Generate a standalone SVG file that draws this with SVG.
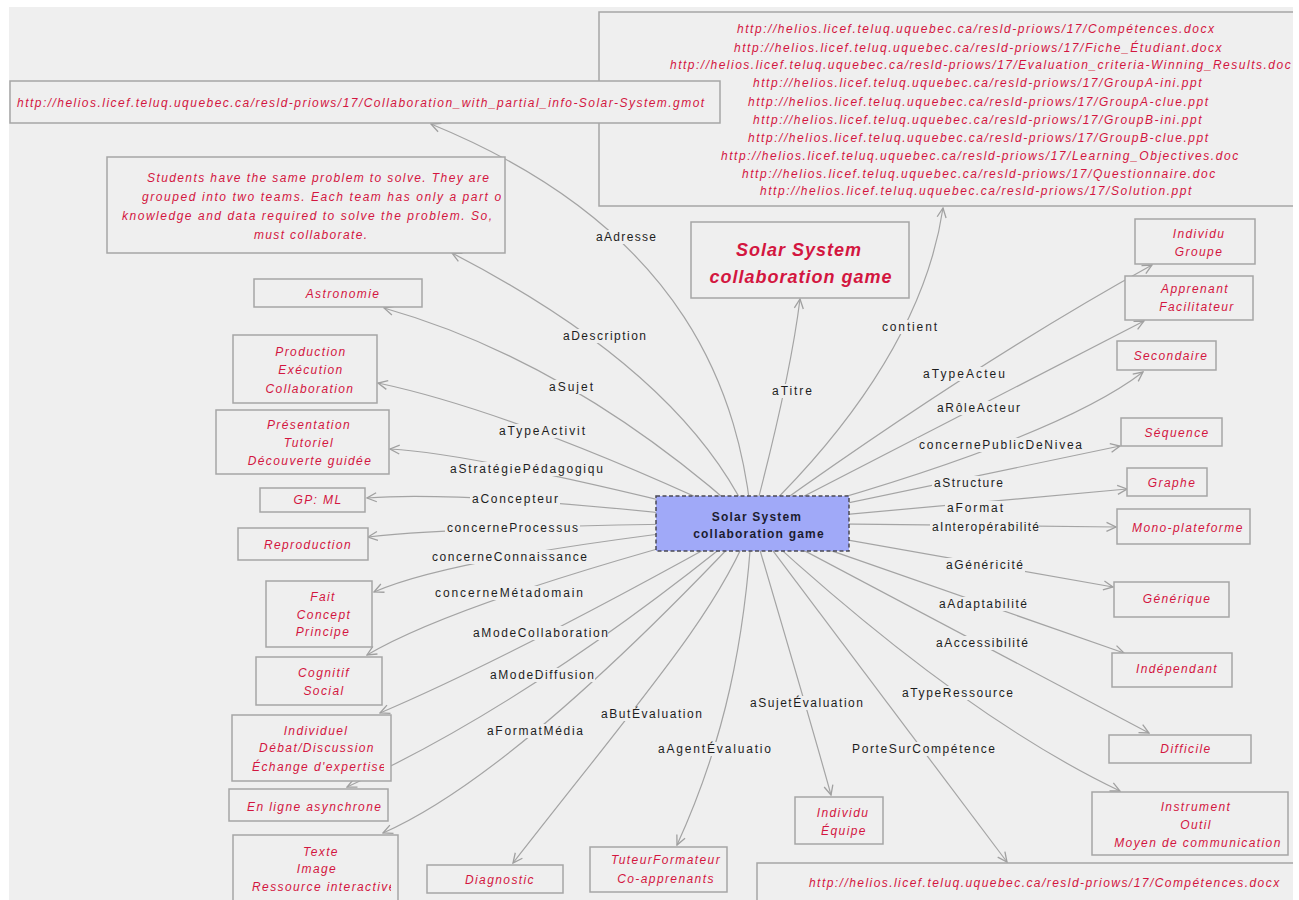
<svg xmlns="http://www.w3.org/2000/svg" width="1299" height="900" viewBox="0 0 1299 900">
<style>
.bg{fill:#efefef}
.box{fill:#efefef;stroke:#a6a6a6;stroke-width:1.5}
.lnk{fill:none;stroke:#a4a4a4;stroke-width:1.2;marker-end:url(#ah)}
.lb{fill:#efefef}
.lbl{font-family:"Liberation Sans",Arial,sans-serif;font-size:12px;fill:#1e1e1e}
.nt{font-family:"Liberation Sans",Arial,sans-serif;font-size:12px;font-style:italic;fill:#d3163f;letter-spacing:1.4px;text-anchor:middle}
.ns{font-family:"Liberation Sans",Arial,sans-serif;font-size:12px;font-style:italic;fill:#d3163f;letter-spacing:1.4px}
.url{font-family:"Liberation Sans",Arial,sans-serif;font-size:12px;font-style:italic;fill:#d3163f;letter-spacing:1.55px}
.ttl{font-family:"Liberation Sans",Arial,sans-serif;font-size:18px;font-weight:bold;font-style:italic;fill:#d3163f;letter-spacing:1px;text-anchor:middle}
.ctr{font-family:"Liberation Sans",Arial,sans-serif;font-size:12px;font-weight:bold;fill:#1c1c30;letter-spacing:1.2px;text-anchor:middle}
</style>
<defs>
<marker id="ah" viewBox="0 0 12 12" refX="11" refY="6" markerWidth="12" markerHeight="12" markerUnits="userSpaceOnUse" orient="auto">
<path d="M1.5,1.5 L11,6 L1.5,10.5" fill="none" stroke="#a0a0a0" stroke-width="1.3"/>
</marker>
<clipPath id="cDesc"><rect x="108" y="158" width="393" height="94"/></clipPath>
<clipPath id="cIndiv"><rect x="233" y="716" width="151" height="64"/></clipPath>
<clipPath id="cLigne"><rect x="230" y="790" width="151" height="30"/></clipPath>
<clipPath id="cTexte"><rect x="234" y="836" width="157" height="64"/></clipPath>
<clipPath id="cMono"><rect x="1118" y="510" width="125" height="33"/></clipPath>
<clipPath id="cRight"><rect x="0" y="0" width="1293" height="900"/></clipPath>
</defs>
<rect x="0" y="0" width="1299" height="900" fill="#ffffff"/>
<rect class="bg" x="9" y="7" width="1284" height="893"/>

<g id="connectors">
<path class="lnk" d="M752,523 C740,400 690,230 431,124"/>
<path class="lnk" d="M752,523 C715,440 630,345 452,253"/>
<path class="lnk" d="M752,523 Q574,362 384,308"/>
<path class="lnk" d="M752,523 Q519,413 378,383"/>
<path class="lnk" d="M752,523 Q481,454 390,449"/>
<path class="lnk" d="M752,523 Q471,490 367,498"/>
<path class="lnk" d="M752,523 Q464,526 368,537"/>
<path class="lnk" d="M752,523 Q455,556 374,592"/>
<path class="lnk" d="M752,523 Q458,601 367,655"/>
<path class="lnk" d="M752,523 Q514,656 380,713"/>
<path class="lnk" d="M752,523 Q532,703 347,787"/>
<path class="lnk" d="M752,523 Q515,775 383,833"/>
<path class="lnk" d="M752,523 C720,610 640,700 513,863"/>
<path class="lnk" d="M752,523 C745,640 725,740 677,845"/>
<path class="lnk" d="M752,523 Q818,747 831,795"/>
<path class="lnk" d="M752,523 L1007,862"/>
<path class="lnk" d="M752,523 Q960,715 1120,791"/>
<path class="lnk" d="M752,523 L1149,733"/>
<path class="lnk" d="M752,523 L1124,653"/>
<path class="lnk" d="M752,523 L1113,587"/>
<path class="lnk" d="M752,523 L1116,527"/>
<path class="lnk" d="M752,523 L1127,489"/>
<path class="lnk" d="M752,523 L1120,446"/>
<path class="lnk" d="M752,523 Q1052,442 1143,372"/>
<path class="lnk" d="M752,523 L1144,321"/>
<path class="lnk" d="M752,523 Q976,362 1152,265"/>
<path class="lnk" d="M752,523 C840,440 925,330 943,208"/>
<path class="lnk" d="M752,523 Q790,380 800,299"/>

<rect class="lb" x="594" y="230" width="64" height="14"/><text class="lbl" x="596" y="241" textLength="60" lengthAdjust="spacing">aAdresse</text>
<rect class="lb" x="561" y="329" width="87" height="14"/><text class="lbl" x="563" y="340" textLength="83" lengthAdjust="spacing">aDescription</text>
<rect class="lb" x="547" y="380" width="48" height="14"/><text class="lbl" x="549" y="391" textLength="44" lengthAdjust="spacing">aSujet</text>
<rect class="lb" x="497" y="424" width="90" height="14"/><text class="lbl" x="499" y="435" textLength="86" lengthAdjust="spacing">aTypeActivit</text>
<rect class="lb" x="448" y="462" width="157" height="14"/><text class="lbl" x="450" y="473" textLength="153" lengthAdjust="spacing">aStratégiePédagogiqu</text>
<rect class="lb" x="470" y="492" width="90" height="14"/><text class="lbl" x="472" y="503" textLength="86" lengthAdjust="spacing">aConcepteur</text>
<rect class="lb" x="445" y="521" width="135" height="14"/><text class="lbl" x="447" y="532" textLength="131" lengthAdjust="spacing">concerneProcessus</text>
<rect class="lb" x="430" y="550" width="159" height="14"/><text class="lbl" x="432" y="561" textLength="155" lengthAdjust="spacing">concerneConnaissance</text>
<rect class="lb" x="433" y="586" width="152" height="14"/><text class="lbl" x="435" y="597" textLength="148" lengthAdjust="spacing">concerneMétadomain</text>
<rect class="lb" x="471" y="626" width="137" height="14"/><text class="lbl" x="473" y="637" textLength="135" lengthAdjust="spacing">aModeCollaboration</text>
<rect class="lb" x="488" y="668" width="107" height="14"/><text class="lbl" x="490" y="679" textLength="104" lengthAdjust="spacing">aModeDiffusion</text>
<rect class="lb" x="485" y="724" width="100" height="14"/><text class="lbl" x="487" y="735" textLength="96" lengthAdjust="spacing">aFormatMédia</text>
<rect class="lb" x="599" y="707" width="103" height="14"/><text class="lbl" x="601" y="718" textLength="101" lengthAdjust="spacing">aButÉvaluation</text>
<rect class="lb" x="656" y="742" width="117" height="14"/><text class="lbl" x="658" y="753" textLength="113" lengthAdjust="spacing">aAgentÉvaluatio</text>
<rect class="lb" x="748" y="696" width="115" height="14"/><text class="lbl" x="750" y="707" textLength="113" lengthAdjust="spacing">aSujetÉvaluation</text>
<rect class="lb" x="850" y="742" width="145" height="14"/><text class="lbl" x="852" y="753" textLength="143" lengthAdjust="spacing">PorteSurCompétence</text>
<rect class="lb" x="900" y="686" width="115" height="14"/><text class="lbl" x="902" y="697" textLength="111" lengthAdjust="spacing">aTypeRessource</text>
<rect class="lb" x="934" y="636" width="96" height="14"/><text class="lbl" x="936" y="647" textLength="92" lengthAdjust="spacing">aAccessibilité</text>
<rect class="lb" x="937" y="597" width="90" height="14"/><text class="lbl" x="939" y="608" textLength="88" lengthAdjust="spacing">aAdaptabilité</text>
<rect class="lb" x="944" y="558" width="81" height="14"/><text class="lbl" x="946" y="569" textLength="77" lengthAdjust="spacing">aGénéricité</text>
<rect class="lb" x="930" y="520" width="109" height="14"/><text class="lbl" x="932" y="531" textLength="107" lengthAdjust="spacing">aInteropérabilité</text>
<rect class="lb" x="945" y="501" width="60" height="14"/><text class="lbl" x="947" y="512" textLength="56" lengthAdjust="spacing">aFormat</text>
<rect class="lb" x="932" y="476" width="73" height="14"/><text class="lbl" x="934" y="487" textLength="69" lengthAdjust="spacing">aStructure</text>
<rect class="lb" x="917" y="438" width="167" height="14"/><text class="lbl" x="919" y="449" textLength="163" lengthAdjust="spacing">concernePublicDeNivea</text>
<rect class="lb" x="935" y="401" width="85" height="14"/><text class="lbl" x="937" y="412" textLength="83" lengthAdjust="spacing">aRôleActeur</text>
<rect class="lb" x="921" y="367" width="86" height="14"/><text class="lbl" x="923" y="378" textLength="82" lengthAdjust="spacing">aTypeActeu</text>
<rect class="lb" x="880" y="320" width="59" height="14"/><text class="lbl" x="882" y="331" textLength="55" lengthAdjust="spacing">contient</text>
<rect class="lb" x="770" y="384" width="44" height="14"/><text class="lbl" x="772" y="395" textLength="40" lengthAdjust="spacing">aTitre</text>
</g>

<g id="n-url-top-right" clip-path="url(#cRight)"><rect class="box" x="599" y="12" width="720" height="194"/>
<text class="url" x="737" y="33">http://helios.licef.teluq.uquebec.ca/resld-priows/17/Compétences.docx</text>
<text class="url" x="734" y="52">http://helios.licef.teluq.uquebec.ca/resld-priows/17/Fiche_Étudiant.docx</text>
<text class="url" x="670" y="69" style="letter-spacing:1.5px">http://helios.licef.teluq.uquebec.ca/resld-priows/17/Evaluation_criteria-Winning_Results.doc</text>
<text class="url" x="753" y="87">http://helios.licef.teluq.uquebec.ca/resld-priows/17/GroupA-ini.ppt</text>
<text class="url" x="748" y="106">http://helios.licef.teluq.uquebec.ca/resld-priows/17/GroupA-clue.ppt</text>
<text class="url" x="753" y="124">http://helios.licef.teluq.uquebec.ca/resld-priows/17/GroupB-ini.ppt</text>
<text class="url" x="748" y="142">http://helios.licef.teluq.uquebec.ca/resld-priows/17/GroupB-clue.ppt</text>
<text class="url" x="721" y="160">http://helios.licef.teluq.uquebec.ca/resld-priows/17/Learning_Objectives.doc</text>
<text class="url" x="742" y="178">http://helios.licef.teluq.uquebec.ca/resld-priows/17/Questionnaire.doc</text>
<text class="url" x="760" y="195">http://helios.licef.teluq.uquebec.ca/resld-priows/17/Solution.ppt</text>
</g>

<g id="n-url-top-left"><rect class="box" x="10" y="81" width="710" height="42"/><text class="url" x="17" y="107" style="letter-spacing:1.47px">http://helios.licef.teluq.uquebec.ca/resld-priows/17/Collaboration_with_partial_info-Solar-System.gmot</text></g>

<g id="n-description"><rect class="box" x="107" y="157" width="398" height="96"/>
<g clip-path="url(#cDesc)">
<text class="ns" x="147" y="182" textLength="342" lengthAdjust="spacing" style="letter-spacing:0">Students have the same problem to solve. They are</text>
<text class="ns" x="142" y="201" textLength="364" lengthAdjust="spacing" style="letter-spacing:0">grouped into two teams. Each team has only a part of</text>
<text class="ns" x="122" y="220" textLength="370" lengthAdjust="spacing" style="letter-spacing:0">knowledge and data required to solve the problem. So,</text>
<text class="ns" x="254" y="239" textLength="113" lengthAdjust="spacing" style="letter-spacing:0">must collaborate.</text>
</g></g>

<g id="n-title"><rect class="box" x="691" y="222" width="218" height="76"/><text class="ttl" x="799" y="256">Solar System</text><text class="ttl" x="801" y="283">collaboration game</text></g>

<g id="n-center"><rect x="656" y="496" width="193" height="55" fill="#a0a9f8" stroke="#4a4a55" stroke-width="1.5" stroke-dasharray="4,2.5"/><text class="ctr" x="757" y="521">Solar System</text><text class="ctr" x="759" y="538">collaboration game</text></g>

<g id="n-astronomie"><rect class="box" x="254" y="279" width="168" height="28"/><text class="nt" x="343" y="298">Astronomie</text></g>
<g id="n-production"><rect class="box" x="233" y="335" width="144" height="68"/><text class="nt" x="311" y="356">Production</text><text class="nt" x="311" y="374">Exécution</text><text class="nt" x="310" y="393">Collaboration</text></g>
<g id="n-presentation"><rect class="box" x="216" y="410" width="173" height="64"/><text class="nt" x="309" y="429">Présentation</text><text class="nt" x="309" y="447">Tutoriel</text><text class="nt" x="310" y="465">Découverte guidée</text></g>
<g id="n-gpml"><rect class="box" x="260" y="488" width="105" height="24"/><text class="nt" x="318" y="504">GP: ML</text></g>
<g id="n-reproduction"><rect class="box" x="238" y="528" width="130" height="32"/><text class="nt" x="308" y="549">Reproduction</text></g>
<g id="n-fait"><rect class="box" x="266" y="581" width="106" height="66"/><text class="nt" x="323" y="601">Fait</text><text class="nt" x="324" y="619">Concept</text><text class="nt" x="323" y="636">Principe</text></g>
<g id="n-cognitif"><rect class="box" x="256" y="657" width="126" height="48"/><text class="nt" x="324" y="677">Cognitif</text><text class="nt" x="324" y="695">Social</text></g>
<g id="n-individuel"><rect class="box" x="232" y="715" width="159" height="66"/><text class="nt" x="316" y="735">Individuel</text><text class="nt" x="317" y="752">Débat/Discussion</text><text class="ns" x="252" y="771" clip-path="url(#cIndiv)">Échange d'expertise</text></g>
<g id="n-enligne"><rect class="box" x="229" y="789" width="159" height="32"/><text class="ns" x="247" y="811" clip-path="url(#cLigne)">En ligne asynchrone</text></g>
<g id="n-texte"><rect class="box" x="233" y="835" width="165" height="75"/><text class="nt" x="321" y="856">Texte</text><text class="nt" x="317" y="873">Image</text><text class="ns" x="252" y="891" clip-path="url(#cTexte)">Ressource interactive</text></g>
<g id="n-diagnostic"><rect class="box" x="427" y="865" width="136" height="28"/><text class="nt" x="500" y="884">Diagnostic</text></g>
<g id="n-tuteur"><rect class="box" x="590" y="847" width="137" height="45"/><text class="nt" x="666" y="864">TuteurFormateur</text><text class="nt" x="666" y="883">Co-apprenants</text></g>
<g id="n-individu-equipe"><rect class="box" x="795" y="797" width="88" height="47"/><text class="nt" x="843" y="817">Individu</text><text class="nt" x="844" y="835">Équipe</text></g>
<g id="n-url-bottom" clip-path="url(#cRight)"><rect class="box" x="757" y="863" width="560" height="50"/><text class="ns" x="809" y="887" style="letter-spacing:1.45px">http://helios.licef.teluq.uquebec.ca/resld-priows/17/Compétences.docx</text></g>
<g id="n-instrument"><rect class="box" x="1092" y="792" width="196" height="63"/><text class="nt" x="1196" y="811">Instrument</text><text class="nt" x="1196" y="829">Outil</text><text class="nt" x="1198" y="847">Moyen de communication</text></g>
<g id="n-difficile"><rect class="box" x="1109" y="735" width="142" height="28"/><text class="nt" x="1186" y="753">Difficile</text></g>
<g id="n-independant"><rect class="box" x="1112" y="653" width="120" height="34"/><text class="nt" x="1177" y="673">Indépendant</text></g>
<g id="n-generique"><rect class="box" x="1114" y="582" width="115" height="35"/><text class="nt" x="1177" y="603">Générique</text></g>
<g id="n-mono"><rect class="box" x="1117" y="509" width="133" height="35"/><text class="ns" x="1132" y="532" clip-path="url(#cMono)">Mono-plateforme</text></g>
<g id="n-graphe"><rect class="box" x="1127" y="468" width="80" height="28"/><text class="nt" x="1172" y="487">Graphe</text></g>
<g id="n-sequence"><rect class="box" x="1121" y="418" width="101" height="28"/><text class="nt" x="1177" y="437">Séquence</text></g>
<g id="n-secondaire"><rect class="box" x="1117" y="341" width="99" height="29"/><text class="nt" x="1171" y="360">Secondaire</text></g>
<g id="n-apprenant"><rect class="box" x="1125" y="276" width="128" height="44"/><text class="nt" x="1195" y="293">Apprenant</text><text class="nt" x="1197" y="311">Facilitateur</text></g>
<g id="n-individu-groupe"><rect class="box" x="1135" y="219" width="120" height="45"/><text class="nt" x="1199" y="238">Individu</text><text class="nt" x="1199" y="256">Groupe</text></g>
<rect x="1293" y="0" width="6" height="900" fill="#ffffff"/>
</svg>
